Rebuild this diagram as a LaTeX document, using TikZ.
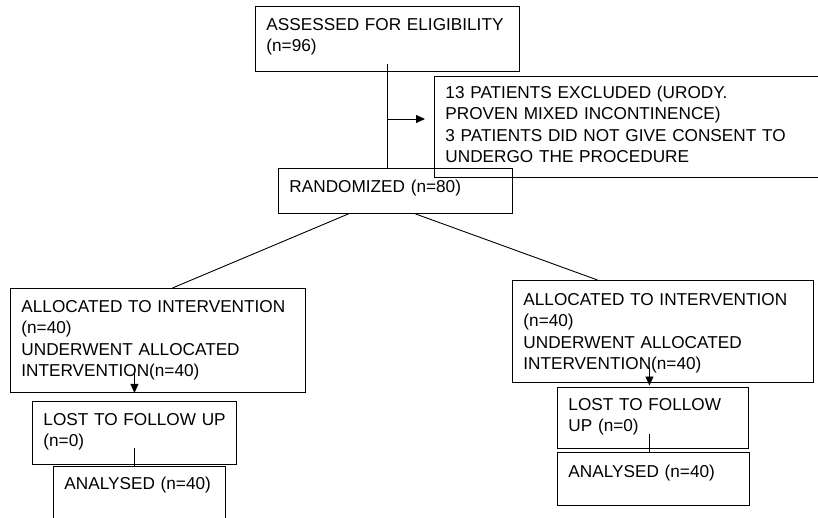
\documentclass[tikz,border=0pt]{standalone}
\usepackage{fontspec}
\setmainfont{Liberation Sans}
\usetikzlibrary{arrows.meta, calc}

\tikzset{
  flowbox/.style={draw, line width=0.9pt, anchor=north west, inner xsep=11pt, inner ysep=0pt,
                  align=left, font=\fontsize{17.2}{21.5}\selectfont, text height=24pt},
  link/.style={line width=0.9pt},
  arrow/.style={link, -{Triangle[length=9pt, width=8pt]}},
}

\begin{document}
\begin{tikzpicture}[x=1pt, y=-1pt]
    \useasboundingbox (0,0) rectangle (818,518);

    % Screening
    \node[flowbox, text width=242pt, text depth=41pt] (A) at (255,6)
        {ASSESSED FOR ELIGIBILITY\\(n=96)};
    \node[flowbox, text width=374pt, text height=22pt, text depth=79pt] (E) at (434,76)
        {13 PATIENTS EXCLUDED (URODY.\\PROVEN MIXED INCONTINENCE)\\3 PATIENTS DID NOT GIVE CONSENT TO\\UNDERGO THE PROCEDURE};
    \node[flowbox, text width=212pt, text depth=21pt] (R) at (278,168)
        {RANDOMIZED (n=80)};

    % Left arm
    \node[flowbox, text width=273pt, text depth=80pt] (L1) at (10,288)
        {ALLOCATED TO INTERVENTION\\(n=40)\\UNDERWENT ALLOCATED\\INTERVENTION(n=40)};
    \node[flowbox, text width=182pt, text depth=39pt] (L2) at (32,401)
        {\mbox{LOST TO FOLLOW UP}\\(n=0)};
    \node[flowbox, text width=150pt, text height=23pt, text depth=41pt] (L3) at (53,466)
        {ANALYSED (n=40)};

    % Right arm
    \node[flowbox, text width=279pt, text height=25pt, text depth=77pt] (R1) at (512,280)
        {ALLOCATED TO INTERVENTION\\(n=40)\\UNDERWENT ALLOCATED\\INTERVENTION(n=40)};
    \node[flowbox, text width=169pt, text height=23pt, text depth=38pt] (R2) at (557,387)
        {LOST TO FOLLOW\\UP (n=0)};
    \node[flowbox, text width=170pt, text height=25pt, text depth=28pt] (R3) at (557,452)
        {ANALYSED (n=40)};

    % Screening to randomisation
    \coordinate (fork) at (387,119);
    \draw[link] ($(A.south)+(0,-8)$) -- (A.south |- R.north);
    \draw[arrow, shorten >=9pt] (fork) -- (fork -| E.west);

    % Split into arms
    \draw[link] ($(R.south)+(-47,0)$) -- ($(L1.north)+(14.5,0)$);
    \draw[link] ($(R.south)+(20,0)$) -- ($(R1.north)+(-65.5,0)$);

    % Follow up
    \draw[arrow] ($(L2.north |- L1.south)+(0,-27)$) -- (L2.north |- L1.south);
    \draw[link] ($(L2.south)+(0,-17)$) -- (L2.south |- L3.north);
    \draw[arrow, shorten >=1.5pt] ($(R2.north)+(-3.5,-19)$) -- ($(R2.north)+(-3.5,0)$);
    \draw[link] ($(R2.south)+(-3.5,-15)$) -- ($(R2.south |- R3.north)+(-3.5,0)$);

\end{tikzpicture}
\end{document}
